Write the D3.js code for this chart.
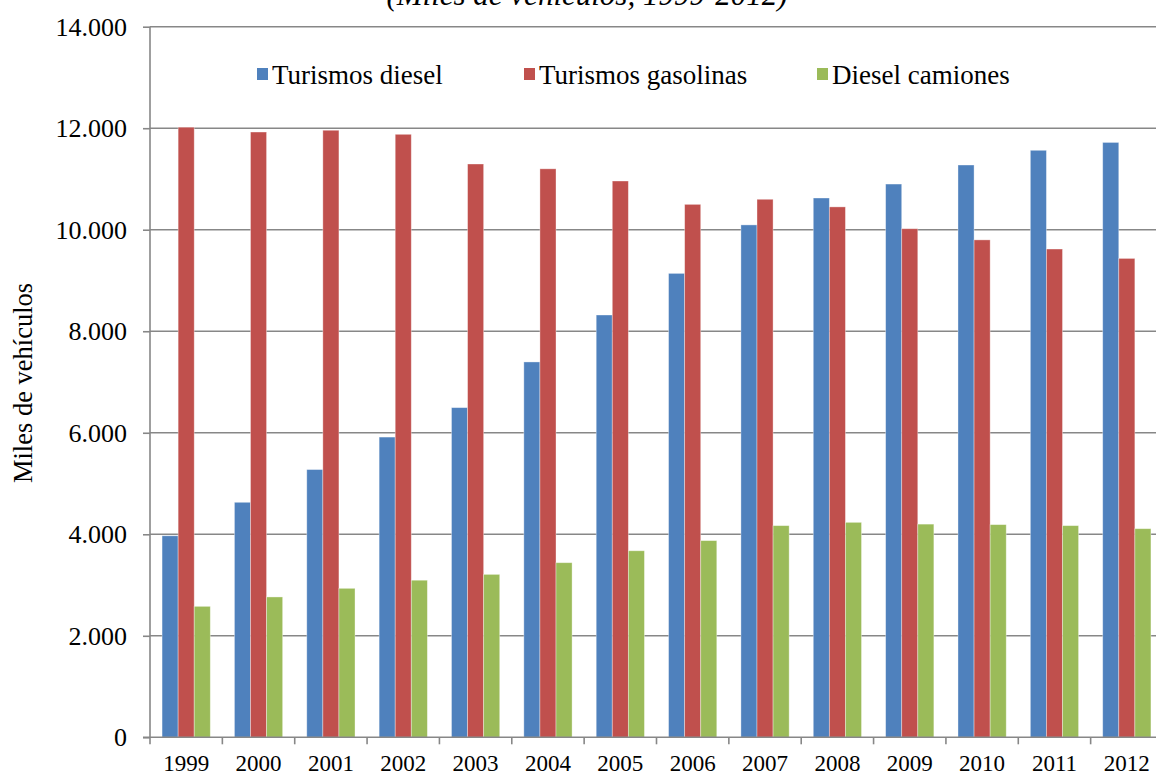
<!DOCTYPE html>
<html>
<head>
<meta charset="utf-8">
<script src="https://cdn.jsdelivr.net/npm/d3@7"></script>
<style>
  html, body { margin: 0; padding: 0; background: #fff; }
  svg { display: block; }
  text { font-family: "Liberation Serif", "Times New Roman", serif; fill: #000; }
</style>
</head>
<body>
<svg id="chart" width="1156" height="776"></svg>
<script>
// Parque de vehículos por tipo (miles), 1999-2012
const years = ["1999","2000","2001","2002","2003","2004","2005","2006","2007","2008","2009","2010","2011","2012"];
const seriesNames = ["Turismos diesel", "Turismos gasolinas", "Diesel camiones"];
const turismosDiesel    = [3970, 4630, 5275, 5915, 6495, 7395, 8320, 9140, 10095, 10625, 10900, 11275, 11565, 11720];
const turismosGasolinas = [12020, 11925, 11960, 11880, 11295, 11200, 10960, 10500, 10600, 10450, 10020, 9800, 9620, 9435];
const dieselCamiones    = [2580, 2765, 2935, 3095, 3210, 3440, 3675, 3875, 4170, 4235, 4200, 4190, 4170, 4110];
const yTicks = [0, 2000, 4000, 6000, 8000, 10000, 12000, 14000];
const colors = ["#4F81BD", "#C0504D", "#9BBB59"];

const seriesValues = [turismosDiesel, turismosGasolinas, dieselCamiones];
const rows = years.map((yr, i) => ({
  year: yr,
  values: seriesNames.map((name, k) => ({ name, value: seriesValues[k][i] }))
}));

const svg = d3.select("#chart");
const plotLeft = 150, plotRight = 1163, plotTop = 26.7, plotBottom = 737.3;

const x = d3.scaleBand().domain(years).range([plotLeft, plotRight]).paddingInner(0).paddingOuter(0);
const xs = d3.scaleBand().domain(seriesNames).range([0, x.bandwidth()]).paddingInner(0).paddingOuter(0.75);
const y = d3.scaleLinear().domain([0, 14000]).range([plotBottom, plotTop]);
const color = d3.scaleOrdinal().domain(seriesNames).range(colors);

const es = d3.formatLocale({ decimal: ",", thousands: ".", grouping: [3], currency: ["", ""] });
const fmt = es.format(",");

// Horizontal gridlines
svg.append("g")
  .selectAll("line")
  .data(yTicks.filter(d => d > 0))
  .join("line")
  .attr("x1", plotLeft).attr("x2", plotRight)
  .attr("y1", d => y(d)).attr("y2", d => y(d))
  .attr("stroke", "#878787").attr("stroke-width", 1.6);

// Bars
const groups = svg.append("g")
  .selectAll("g")
  .data(rows)
  .join("g")
  .attr("transform", d => `translate(${x(d.year)},0)`);

groups.selectAll("rect")
  .data(d => d.values)
  .join("rect")
  .attr("x", d => xs(d.name))
  .attr("width", xs.bandwidth())
  .attr("y", d => y(d.value))
  .attr("height", d => y(0) - y(d.value))
  .attr("fill", d => color(d.name))
  .attr("stroke", "rgba(255,255,255,0.45)")
  .attr("stroke-width", 0.8);

// Y axis
const yAxis = svg.append("g")
  .attr("transform", `translate(${plotLeft},0)`)
  .call(d3.axisLeft(y).tickValues(yTicks).tickFormat(fmt).tickSize(7).tickPadding(16));
yAxis.select(".domain").attr("stroke", "#878787").attr("stroke-width", 1.6)
  .attr("d", `M0,${plotTop}V${plotBottom}`);
yAxis.selectAll(".tick line").attr("stroke", "#878787").attr("stroke-width", 1.6);
yAxis.selectAll(".tick text")
  .attr("font-family", "Liberation Serif")
  .attr("font-size", 26)
  .attr("fill", "#000");

// X axis: baseline, boundary ticks, year labels
svg.append("line")
  .attr("x1", plotLeft - 7).attr("x2", plotRight)
  .attr("y1", plotBottom).attr("y2", plotBottom)
  .attr("stroke", "#878787").attr("stroke-width", 1.6);

svg.append("g")
  .selectAll("line")
  .data(years.map(d => x(d)).concat([x(years[years.length - 1]) + x.bandwidth()]))
  .join("line")
  .attr("x1", d => d).attr("x2", d => d)
  .attr("y1", plotBottom).attr("y2", plotBottom + 7)
  .attr("stroke", "#878787").attr("stroke-width", 1.6);

const xAxis = svg.append("g")
  .attr("transform", `translate(0,${plotBottom})`)
  .call(d3.axisBottom(x).tickSize(0).tickPadding(0));
xAxis.select(".domain").remove();
xAxis.selectAll(".tick text")
  .attr("font-family", "Liberation Serif")
  .attr("font-size", 23)
  .attr("fill", "#000")
  .attr("dy", null)
  .attr("y", 34);

// Y axis title
svg.append("text")
  .attr("transform", "translate(32,383) rotate(-90)")
  .attr("text-anchor", "middle")
  .attr("font-size", 26.5)
  .text("Miles de vehículos");

// Subtitle (partially above the top edge)
svg.append("text")
  .attr("x", 587).attr("y", 5)
  .attr("text-anchor", "middle")
  .attr("font-size", 31)
  .attr("font-style", "italic")
  .text("(Miles de vehículos, 1999-2012)");

// Legend
const legendX = [257, 524, 817];
const legend = svg.append("g")
  .selectAll("g")
  .data(seriesNames)
  .join("g")
  .attr("transform", (d, i) => `translate(${legendX[i]},68)`);
legend.append("rect")
  .attr("width", 11).attr("height", 12)
  .attr("fill", d => color(d));
legend.append("text")
  .attr("x", 15).attr("y", 15.5)
  .attr("font-size", 27)
  .text(d => d);
</script>
</body>
</html>
